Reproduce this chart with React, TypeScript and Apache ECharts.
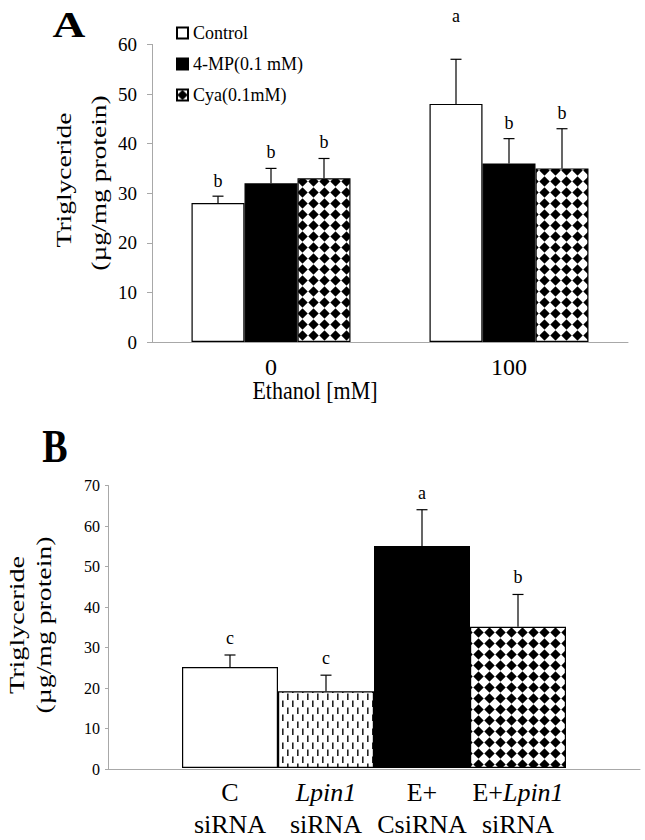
import React, { useEffect, useRef } from "react";
import * as echarts from "echarts";

// ---------- Data ----------
const categoriesA = ["0", "100"];
const seriesNamesA = ["Control", "4-MP(0.1 mM)", "Cya(0.1mM)"];
const controlA = [28, 48];
const controlErrA = [1.4, 9];
const controlLettersA = ["b", "a"];
const controlLetterLevelA = [NaN, 64]; // letter placed at this value when given
const mpA = [32, 36];
const mpErrA = [3, 5];
const mpLettersA = ["b", "b"];
const cyaA = [33, 35];
const cyaErrA = [4, 8];
const cyaLettersA = ["b", "b"];
const yTicksA = { min: 0, max: 60, interval: 10 };

const categoriesB = ["C\nsiRNA", "Lpin1\nsiRNA", "E+\nCsiRNA", "E+Lpin1\nsiRNA"];
const valuesB = [25, 19, 55, 35];
const errB = [3, 4, 9, 8];
const lettersB = ["c", "c", "a", "b"];
const yTicksB = { min: 0, max: 70, interval: 10 };

const FONT = "'Liberation Serif', 'Times New Roman', Times, serif";
const AXIS_GRAY = "#a8a8a8";

function makeDiamondPattern() {
  const s = 4, w = 11, h = 11;
  const c = document.createElement("canvas");
  c.width = w * s; c.height = h * s;
  const ctx = c.getContext("2d")!;
  ctx.fillStyle = "#fff";
  ctx.fillRect(0, 0, c.width, c.height);
  ctx.fillStyle = "#000";
  ctx.beginPath();
  ctx.moveTo(5.5 * s, 0.3 * s);
  ctx.lineTo(10.7 * s, 5.5 * s);
  ctx.lineTo(5.5 * s, 10.7 * s);
  ctx.lineTo(0.3 * s, 5.5 * s);
  ctx.closePath();
  ctx.fill();
  return { image: c, repeat: "repeat", imageWidth: w, imageHeight: h };
}

function makeDashPattern() {
  const s = 4, w = 10, h = 14;
  const c = document.createElement("canvas");
  c.width = w * s; c.height = h * s;
  const ctx = c.getContext("2d")!;
  ctx.fillStyle = "#fff";
  ctx.fillRect(0, 0, c.width, c.height);
  ctx.fillStyle = "#222";
  ctx.fillRect(2 * s, 0.5 * s, 1.6 * s, 6.5 * s);
  ctx.fillRect(7 * s, 7.5 * s, 1.6 * s, 6.5 * s);
  return { image: c, repeat: "repeat", imageWidth: w, imageHeight: h };
}

function errorSeries(
  xAxisIndex: number,
  yAxisIndex: number,
  means: number[],
  errs: number[],
  letters: string[],
  offset: number,
  gap: number,
  levels?: number[]
) {
  return {
    type: "custom",
    xAxisIndex,
    yAxisIndex,
    z: 10,
    silent: true,
    clip: false,
    data: means.map((m, i) => [i, m, m + errs[i]]),
    renderItem: (params: any, api: any) => {
      const i = params.dataIndex;
      const base = api.coord([api.value(0), api.value(1)]);
      const top = api.coord([api.value(0), api.value(2)]);
      const x = base[0] + offset;
      const letter = letters[i];
      const lvl = levels && !isNaN(levels[i]) ? levels[i] : NaN;
      const ly = isNaN(lvl) ? top[1] - gap : api.coord([api.value(0), lvl])[1];
      return {
        type: "group",
        children: [
          { type: "line", shape: { x1: x, y1: base[1], x2: x, y2: top[1] }, style: { stroke: "#000", lineWidth: 1.2 } },
          { type: "line", shape: { x1: x - 5.5, y1: top[1], x2: x + 5.5, y2: top[1] }, style: { stroke: "#000", lineWidth: 1.2 } },
          {
            type: "text",
            x: x,
            y: ly,
            style: { text: letter, align: "center", verticalAlign: "bottom", fontSize: 18, fontFamily: FONT, fill: "#000" },
          },
        ],
      };
    },
  };
}

export default function App() {
  const ref = useRef<HTMLDivElement>(null);
  useEffect(() => {
    if (!ref.current) return;
    const chart = echarts.init(ref.current, null, { renderer: "svg" });
    const diamond = makeDiamondPattern();
    const dash = makeDashPattern();
    const barBorder = { borderColor: "#000", borderWidth: 1.2 };
    const BW = 53;

    const option: any = {
      animation: false,
      backgroundColor: "#fff",
      textStyle: { fontFamily: FONT, color: "#000" },
      legend: {
        data: seriesNamesA,
        orient: "vertical",
        left: 171,
        top: 18,
        itemWidth: 11,
        itemHeight: 11,
        itemGap: 11,
        icon: "rect",
        textStyle: { fontSize: 18, lineHeight: 20, fontFamily: FONT, color: "#000" },
        selectedMode: false,
      },
      grid: [
        { left: 152, top: 44.4, width: 476, height: 297.6 },
        { left: 108, top: 485.5, width: 532, height: 283.5 },
        { left: 182, top: 485.5, width: 384, height: 283.5 },
      ],
      xAxis: [
        {
          type: "category",
          gridIndex: 0,
          data: categoriesA,
          axisLine: { lineStyle: { color: AXIS_GRAY, width: 1 } },
          axisTick: { show: false },
          axisLabel: { fontSize: 24, margin: 13, color: "#000", fontFamily: FONT },
        },
        {
          type: "value",
          gridIndex: 1,
          min: 0,
          max: 1,
          axisLine: { show: true, lineStyle: { color: AXIS_GRAY, width: 1 } },
          axisTick: { show: false },
          axisLabel: { show: false },
          splitLine: { show: false },
        },
        {
          type: "category",
          gridIndex: 2,
          data: categoriesB,
          axisLine: { show: false },
          axisTick: { show: false },
          axisLabel: {
            interval: 0,
            fontSize: 26,
            lineHeight: 32,
            margin: 8,
            color: "#000",
            fontFamily: FONT,
            formatter: (v: string) => v.replace("Lpin1", "{i|Lpin1}"),
            rich: { i: { fontStyle: "italic", fontSize: 26, lineHeight: 32, fontFamily: FONT, color: "#000" } },
          },
        },
      ],
      yAxis: [
        {
          type: "value",
          gridIndex: 0,
          ...yTicksA,
          axisLine: { show: true, lineStyle: { color: AXIS_GRAY, width: 1 } },
          axisTick: { show: true, length: 5, lineStyle: { color: AXIS_GRAY } },
          axisLabel: { fontSize: 19, margin: 15, color: "#000", fontFamily: FONT },
          splitLine: { show: false },
        },
        {
          type: "value",
          gridIndex: 1,
          ...yTicksB,
          axisLine: { show: true, lineStyle: { color: AXIS_GRAY, width: 1 } },
          axisTick: { show: true, length: 3, lineStyle: { color: AXIS_GRAY } },
          axisLabel: { fontSize: 16, margin: 8, color: "#000", fontFamily: FONT },
          splitLine: { show: false },
        },
        {
          type: "value",
          gridIndex: 2,
          ...yTicksB,
          show: false,
          splitLine: { show: false },
        },
      ],
      series: [
        { name: seriesNamesA[0], type: "bar", xAxisIndex: 0, yAxisIndex: 0, data: controlA, barWidth: BW, barGap: "0%", itemStyle: { color: "#fff", ...barBorder } },
        { name: seriesNamesA[1], type: "bar", xAxisIndex: 0, yAxisIndex: 0, data: mpA, barWidth: BW, barGap: "0%", itemStyle: { color: "#000", ...barBorder } },
        { name: seriesNamesA[2], type: "bar", xAxisIndex: 0, yAxisIndex: 0, data: cyaA, barWidth: BW, barGap: "0%", itemStyle: { color: diamond, ...barBorder } },
        errorSeries(0, 0, controlA, controlErrA, controlLettersA, -BW, 6, controlLetterLevelA),
        errorSeries(0, 0, mpA, mpErrA, mpLettersA, 0, 7),
        errorSeries(0, 0, cyaA, cyaErrA, cyaLettersA, BW, 7),
        {
          name: "B",
          type: "bar",
          xAxisIndex: 2,
          yAxisIndex: 2,
          barWidth: "100%",
          data: valuesB.map((v, i) => ({
            value: v,
            itemStyle: { color: ["#fff", dash, "#000", diamond][i], ...barBorder },
          })),
        },
        errorSeries(2, 2, valuesB, errB, lettersB, 0, 8),
      ],
      graphic: [
        { type: "text", x: 69, y: 25, scaleX: 1.3, style: { text: "A", fontSize: 35, fontWeight: "bold", fontFamily: FONT, fill: "#000", align: "center", verticalAlign: "middle" } },
        { type: "text", x: 55, y: 447, scaleY: 1.2, style: { text: "B", fontSize: 38, fontWeight: "bold", fontFamily: FONT, fill: "#000", align: "center", verticalAlign: "middle" } },
        { type: "text", x: 315, y: 391, scaleY: 1.1, style: { text: "Ethanol [mM]", fontSize: 22, fontFamily: FONT, fill: "#000", align: "center", verticalAlign: "middle" } },
        { type: "text", x: 63, y: 180, rotation: Math.PI / 2, scaleX: 1.25, style: { text: "Triglyceride", fontSize: 22, fontFamily: FONT, fill: "#000", align: "center", verticalAlign: "middle" } },
        { type: "text", x: 98, y: 183, rotation: Math.PI / 2, scaleX: 1.25, style: { text: "(µg/mg protein)", fontSize: 22, fontFamily: FONT, fill: "#000", align: "center", verticalAlign: "middle" } },
        { type: "text", x: 16, y: 625, rotation: Math.PI / 2, scaleX: 1.28, style: { text: "Triglyceride", fontSize: 22, fontFamily: FONT, fill: "#000", align: "center", verticalAlign: "middle" } },
        { type: "text", x: 44, y: 625, rotation: Math.PI / 2, scaleX: 1.26, style: { text: "(µg/mg protein)", fontSize: 22, fontFamily: FONT, fill: "#000", align: "center", verticalAlign: "middle" } },
      ],
    };
    chart.setOption(option);
    return () => chart.dispose();
  }, []);
  return <div ref={ref} style={{ position: "fixed", left: 0, top: 0, width: 645, height: 840, background: "#fff" }} />;
}
